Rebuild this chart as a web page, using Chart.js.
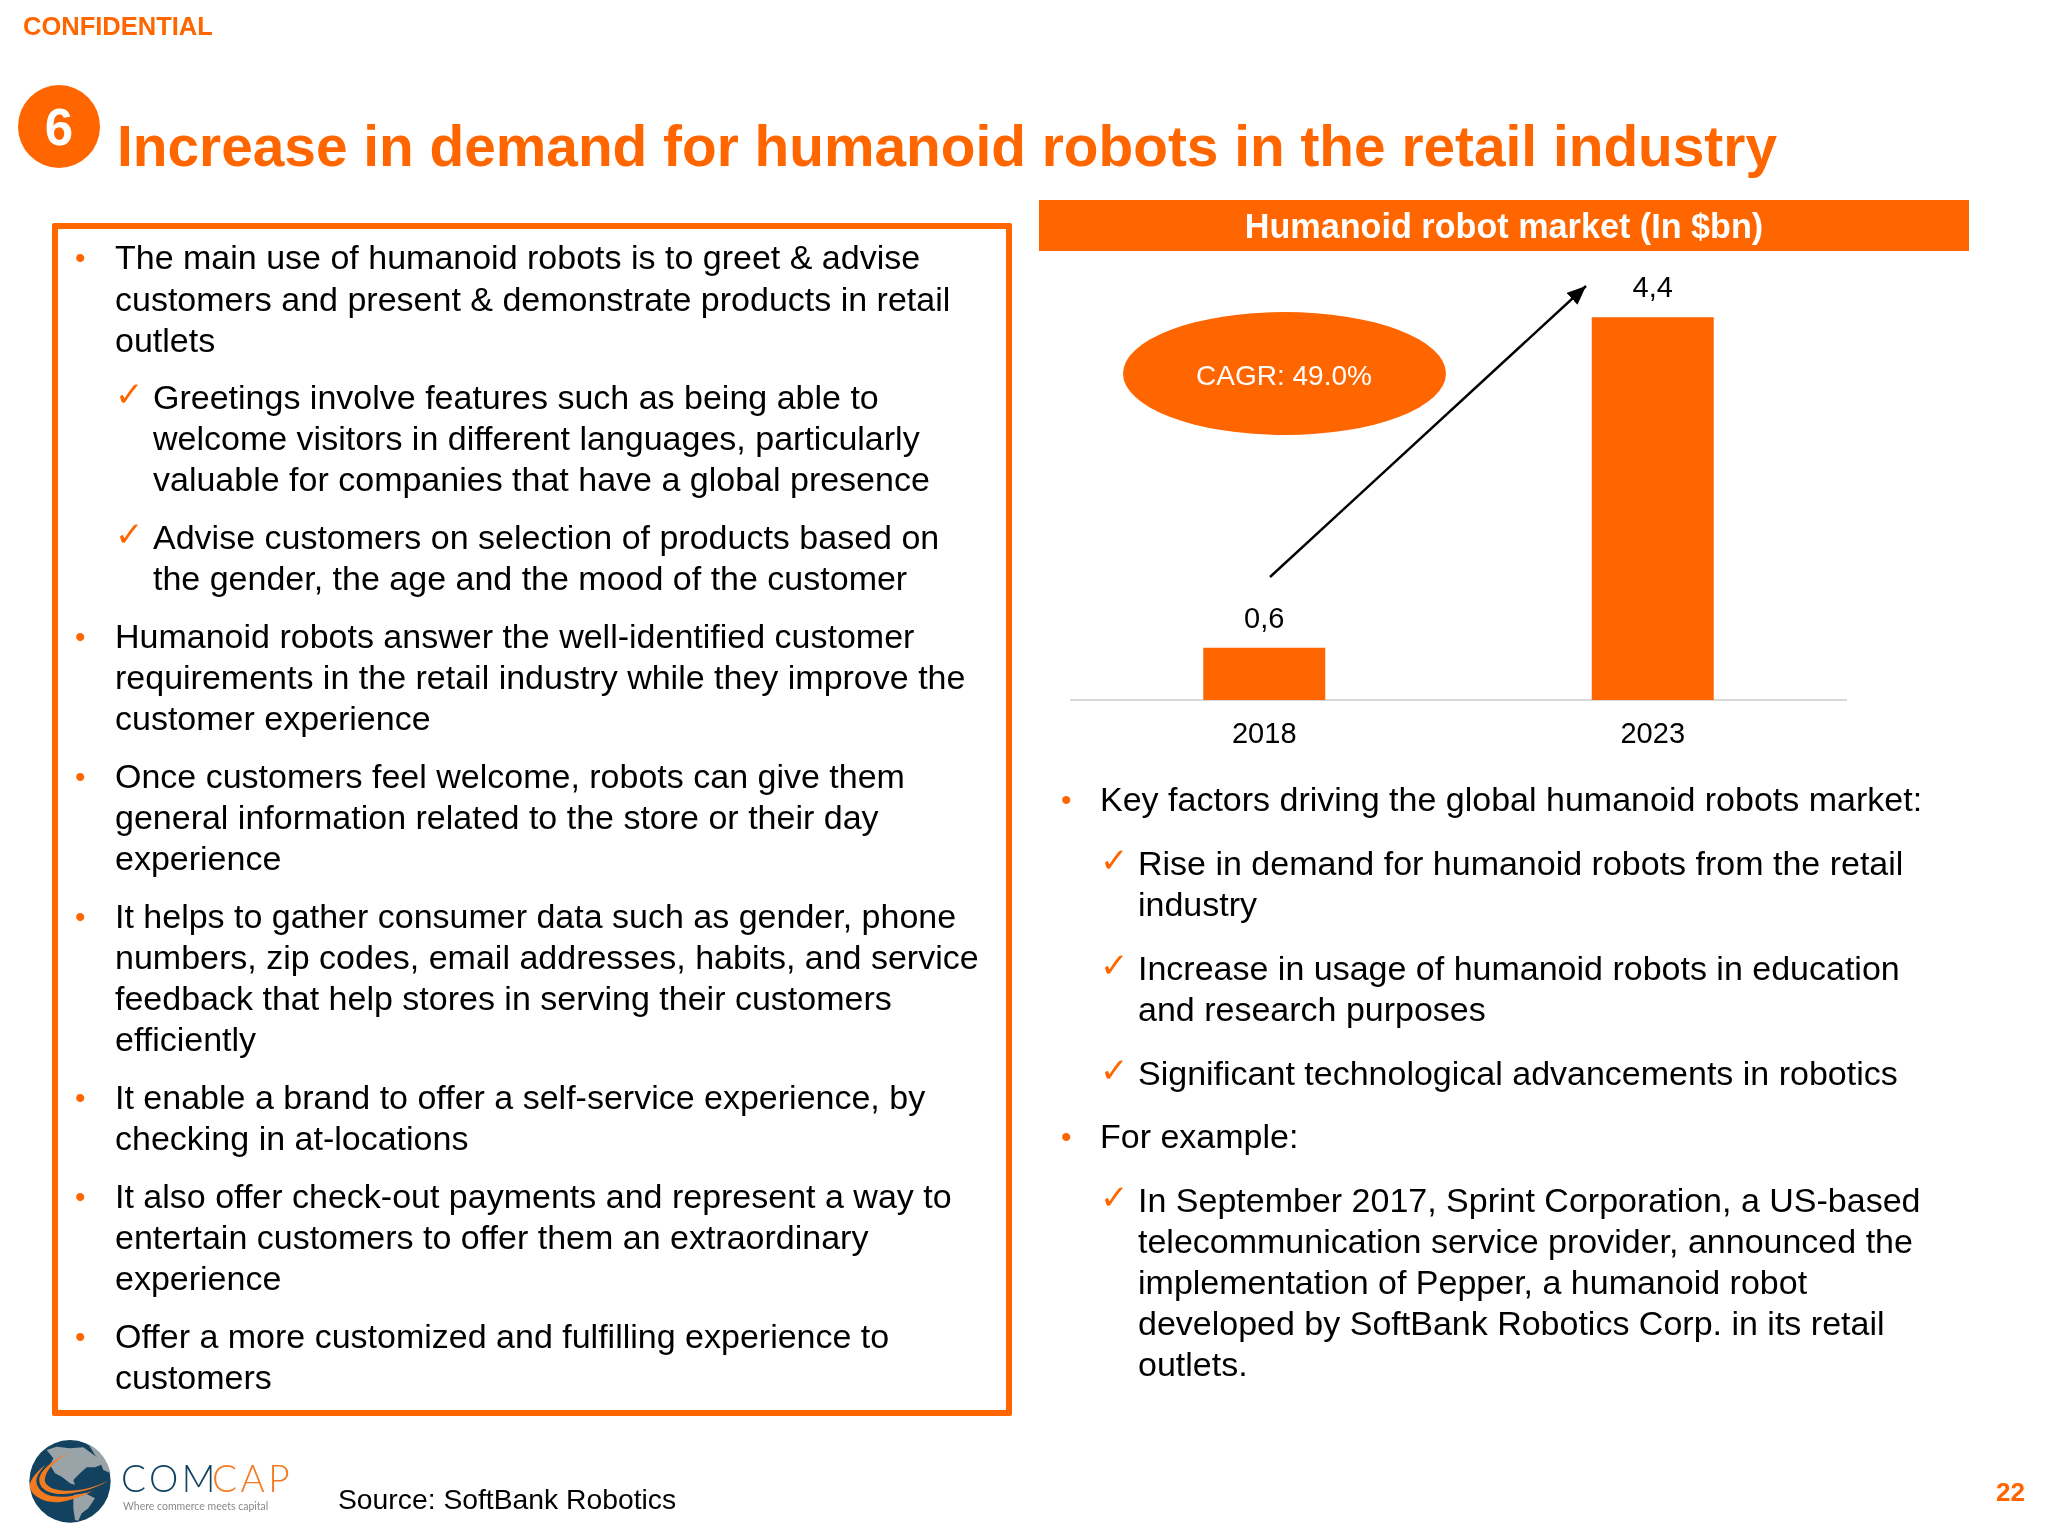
<!DOCTYPE html>
<html>
<head>
<meta charset="utf-8">
<title>Humanoid robot market</title>
<script src="https://cdn.jsdelivr.net/npm/chart.js@4"></script>
<style>
    html, body { margin: 0; padding: 0; background: #fff; }
    #slide { position: relative; width: 2048px; height: 1536px; overflow: hidden; font-family: "Liberation Sans", Arial, sans-serif; color: #000; }
    .t { position: absolute; white-space: nowrap; line-height: 1; }
    .box { position: absolute; box-sizing: border-box; }
    svg { position: absolute; left: 0; top: 0; }
    #chartWrap { position: absolute; left: 1070px; top: 265px; width: 777px; height: 490px; }
</style>
</head>
<body>
<div id="slide">
    <div class="box" style="left:52px;top:223px;width:960px;height:1193px;border:6px solid #ff6600;border-radius:2px"></div>
    <div class="box" style="left:1039px;top:200px;width:930px;height:51px;background:#ff6600"></div>
    <div class="box" style="left:18px;top:85px;width:82px;height:83px;border-radius:50%;background:#ff6600"></div>
    <div class="box" style="left:1123px;top:312px;width:323px;height:123px;border-radius:50%;background:#ff6600"></div>
    <div id="chartWrap"><canvas id="barChart" width="777" height="490"></canvas></div>
    <svg width="2048" height="1536">
        <defs>
            <marker id="head" markerUnits="userSpaceOnUse" markerWidth="20" markerHeight="18" refX="19" refY="8" orient="auto">
                <path d="M0,0 L19,8 L0,16 Z" fill="#000"></path>
            </marker>
        </defs>
        <line x1="1270" y1="577" x2="1586" y2="286" stroke="#000" stroke-width="2.4" marker-end="url(#head)"></line>
        <!-- logo globe, drawn in 3x units -->
        <g transform="translate(20 1430) scale(0.3333)">
            <ellipse cx="150" cy="154" rx="122" ry="124" fill="#12425f"></ellipse>
            <path d="M80,60 L110,50 L150,55 L190,52 L235,85 L250,102 L225,112 L200,112 L180,130 L160,150 L165,165 L150,160 L125,140 L105,130 L90,105 L100,85 Z" fill="#9aa3a8"></path>
            <path d="M205,42 C240,60 262,90 272,130 L250,120 L240,95 L225,75 Z" fill="#9aa3a8"></path>
            <path d="M160,195 L195,190 L225,205 L205,235 L185,250 L175,272 L165,270 L160,235 Z" fill="#9aa3a8"></path>
            <path d="M150,68 C105,88 72,125 75,155 C85,180 130,186 175,180 C205,176 240,165 264,152 C235,172 185,188 130,192 C85,194 55,175 58,145 C65,115 105,85 150,68 Z" fill="#f47a20"></path>
            <path d="M75,105 C45,130 25,155 30,175 C40,205 85,222 125,215 C160,210 195,195 225,180 C185,195 135,205 95,198 C60,190 45,165 50,145 C55,130 65,118 75,105 Z" fill="#f47a20"></path>
        </g>
    </svg>
    <div id="texts"></div>
</div>
<script>
const ORANGE = '#ff6600';

// chart data
const categories = ['2018', '2023'];
const marketValues = [0.6, 4.4];

// slide text: [baseline y, kind, text]
const leftLines = [
    [269, 'b', 'The main use of humanoid robots is to greet & advise'],
    [311, '', 'customers and present & demonstrate products in retail'],
    [352, '', 'outlets'],
    [409, 'c', 'Greetings involve features such as being able to'],
    [450, '', 'welcome visitors in different languages, particularly'],
    [491, '', 'valuable for companies that have a global presence'],
    [549, 'c', 'Advise customers on selection of products based on'],
    [590, '', 'the gender, the age and the mood of the customer'],
    [648, 'b', 'Humanoid robots answer the well-identified customer'],
    [689, '', 'requirements in the retail industry while they improve the'],
    [730, '', 'customer experience'],
    [788, 'b', 'Once customers feel welcome, robots can give them'],
    [829, '', 'general information related to the store or their day'],
    [870, '', 'experience'],
    [928, 'b', 'It helps to gather consumer data such as gender, phone'],
    [969, '', 'numbers, zip codes, email addresses, habits, and service'],
    [1010, '', 'feedback that help stores in serving their customers'],
    [1051, '', 'efficiently'],
    [1109, 'b', 'It enable a brand to offer a self-service experience, by'],
    [1150, '', 'checking in at-locations'],
    [1208, 'b', 'It also offer check-out payments and represent a way to'],
    [1249, '', 'entertain customers to offer them an extraordinary'],
    [1290, '', 'experience'],
    [1348, 'b', 'Offer a more customized and fulfilling experience to'],
    [1389, '', 'customers'],
];
const rightLines = [
    [811, 'b', 'Key factors driving the global humanoid robots market:'],
    [875, 'c', 'Rise in demand for humanoid robots from the retail'],
    [916, '', 'industry'],
    [980, 'c', 'Increase in usage of humanoid robots in education'],
    [1021, '', 'and research purposes'],
    [1085, 'c', 'Significant technological advancements in robotics'],
    [1148, 'b', 'For example:'],
    [1212, 'c', 'In September 2017, Sprint Corporation, a US-based'],
    [1253, '', 'telecommunication service provider, announced the'],
    [1294, '', 'implementation of Pepper, a humanoid robot'],
    [1335, '', 'developed by SoftBank Robotics Corp. in its retail'],
    [1376, '', 'outlets.'],
];

const holder = document.getElementById('texts');

function addText(x, baseline, text, size, opts = {}) {
    const el = document.createElement('div');
    el.className = 't';
    el.textContent = text;
    el.style.fontSize = size + 'px';
    el.style.top = (baseline - size * 0.8465) + 'px';
    el.style.color = opts.color || '#000';
    el.style.fontWeight = opts.bold ? 'bold' : 'normal';
    if (opts.family) el.style.fontFamily = opts.family;
    if (opts.center) {
        el.style.left = x + 'px';
        el.style.transform = 'translateX(-50%)';
    } else if (opts.right) {
        el.style.right = (2048 - x) + 'px';
    } else {
        el.style.left = x + 'px';
    }
    holder.appendChild(el);
    return el;
}

// the logo word is set tight so its box stops at the baseline
function addLogoWord(x, baseline, text, color) {
    const el = addText(x, baseline, text, 37, { color, family: 'Lato' });
    el.style.fontWeight = 300;
    el.style.letterSpacing = '3.5px';
    el.style.lineHeight = '0.74';
    el.style.top = (baseline - 37 * 0.757) + 'px';
}

// bullets and sub-bullets share the same indents on each side
function addBlock(lines, bulletX, textX, checkX, subX) {
    const size = 34;
    lines.forEach(([y, kind, text], i) => {
        if (kind === 'b') addText(bulletX, y - 1, '•', 30, { color: ORANGE });
        if (kind === 'c') addText(checkX, y - 3, '✓', 34, { color: ORANGE, family: '"DejaVu Sans"' });
        // continuation lines follow the indent of the last marker above them
        let k = kind;
        for (let j = i; !k && j >= 0; j--) k = lines[j][1];
        addText(k === 'c' ? subX : textX, y, text, size);
    });
}

addText(23, 36, 'CONFIDENTIAL', 25.5, { color: ORANGE, bold: true });
addText(59, 145, '6', 51, { color: '#fff', bold: true, center: true });
addText(117, 167, 'Increase in demand for humanoid robots in the retail industry', 56.8, { color: ORANGE, bold: true });
addText(1504, 238, 'Humanoid robot market (In $bn)', 34.2, { color: '#fff', bold: true, center: true });
addText(1284, 386, 'CAGR: 49.0%', 28, { color: '#fff', center: true });
addBlock(leftLines, 75, 115, 115, 153);
addBlock(rightLines, 1061, 1100, 1100, 1138);
addText(338, 1509, 'Source: SoftBank Robotics', 28.3);
addText(2025, 1501, '22', 26, { color: ORANGE, bold: true, right: true });
addLogoWord(121, 1492.5, 'COM', '#12425f');
addLogoWord(212, 1492.5, 'CAP', '#f47a20');
const tag = addText(123, 1511, 'Where commerce meets capital', 10.5, { color: '#8a8a8a', family: 'Lato' });
tag.style.lineHeight = '0.8';

const valueLabels = {
    id: 'valueLabels',
    afterDatasetsDraw(chart) {
        const ctx = chart.ctx;
        const meta = chart.getDatasetMeta(0);
        ctx.save();
        ctx.font = '29px "Liberation Sans"';
        ctx.fillStyle = '#000';
        ctx.textAlign = 'center';
        ctx.textBaseline = 'middle';
        meta.data.forEach((bar, i) => {
            ctx.fillText(String(marketValues[i]).replace('.', ','), bar.x, bar.y - 28);
        });
        ctx.restore();
    },
};

new Chart(document.getElementById('barChart'), {
    type: 'bar',
    data: {
        labels: categories,
        datasets: [
            {
                label: 'Humanoid robot market (In $bn)',
                data: marketValues,
                backgroundColor: ORANGE,
                categoryPercentage: 1,
                barPercentage: 0.314,
            },
        ],
    },
    options: {
        responsive: false,
        animation: false,
        layout: { padding: 0 },
        plugins: { legend: { display: false }, tooltip: { enabled: false } },
        scales: {
            x: {
                grid: { display: false, drawTicks: false },
                border: { color: '#d9d9d9', width: 2 },
                ticks: { color: '#000', font: { size: 29, family: '"Liberation Sans"' }, padding: 18 },
                afterFit(scale) { scale.height = 55; },
            },
            y: { display: false, min: 0, max: 5 },
        },
    },
    plugins: [valueLabels],
});
</script>
</body>
</html>
